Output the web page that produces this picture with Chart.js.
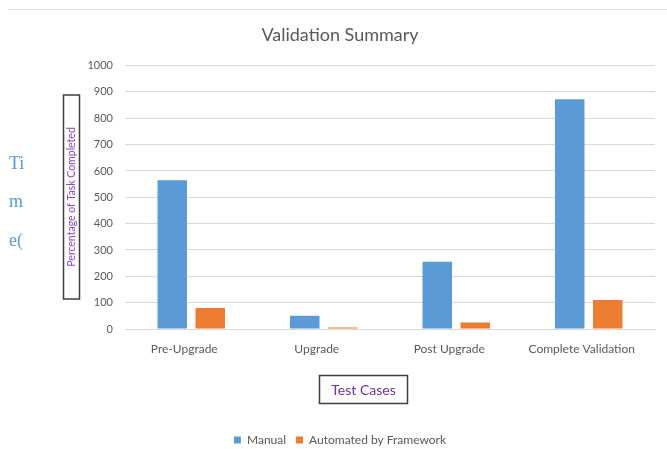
<!DOCTYPE html>
<html>
<head>
<meta charset="utf-8">
<script src="https://cdn.jsdelivr.net/npm/chart.js@4"></script>
<style>
  html, body { margin: 0; padding: 0; background: #fff; }
  #wrap { width: 667px; height: 449px; position: relative; }
</style>
</head>
<body>
<div id="wrap"><canvas id="chart"></canvas></div>
<script>
  const categories = ['Pre-Upgrade', 'Upgrade', 'Post Upgrade', 'Complete Validation'];
  const manual = [565, 50, 255, 872];
  const automated = [80, 6, 25, 110];
  const yTicks = [0, 100, 200, 300, 400, 500, 600, 700, 800, 900, 1000];

  const font = 'Lato, "Open Sans", sans-serif';
  const grey = '#595959';

  // boxed axis titles, the stray "Ti m e(" text and the top rule
  const extras = {
    id: 'extras',
    afterDraw(chart) {
      const ctx = chart.ctx;
      ctx.save();

      ctx.strokeStyle = '#e3e3e3';
      ctx.lineWidth = 1;
      ctx.beginPath();
      ctx.moveTo(8, 9.5);
      ctx.lineTo(667, 9.5);
      ctx.stroke();

      ctx.fillStyle = '#5b9bd5';
      ctx.font = '18px "Liberation Serif", "DejaVu Serif", serif';
      ctx.textAlign = 'left';
      ctx.textBaseline = 'middle';
      ctx.fillText('Ti', 9, 164);
      ctx.fillText('m', 9, 202);
      ctx.fillText('e(', 9, 241);

      // y title box
      ctx.strokeStyle = '#3f3f3f';
      ctx.lineWidth = 1.5;
      ctx.strokeRect(63.5, 95, 16, 204);
      ctx.save();
      ctx.translate(71.5, 197);
      ctx.rotate(-Math.PI / 2);
      ctx.fillStyle = '#8e44c9';
      ctx.font = '10.5px ' + font;
      ctx.textAlign = 'center';
      ctx.fillText('Percentage of Task Completed', 0, 0);
      ctx.restore();

      // x title box
      ctx.strokeRect(319.5, 375.5, 88, 28);
      ctx.fillStyle = '#7030a0';
      ctx.font = '14px ' + font;
      ctx.textAlign = 'center';
      ctx.fillText('Test Cases', 363.5, 390);

      ctx.restore();
    }
  };

  new Chart(
    document.getElementById('chart'),
    {
      type: 'bar',
      data: {
        labels: categories,
        datasets: [
          { label: 'Manual', data: manual, backgroundColor: '#5b9bd5' },
          { label: 'Automated by Framework', data: automated, backgroundColor: '#ed7d31' }
        ]
      },
      options: {
        responsive: true,
        maintainAspectRatio: false,
        animation: false,
        datasets: {
          bar: { categoryPercentage: 0.574, barPercentage: 0.776 }
        },
        layout: { padding: { left: 25, right: 12, top: 0, bottom: -7 } },
        plugins: {
          title: {
            display: true,
            text: 'Validation Summary',
            color: grey,
            font: { family: font, size: 18, weight: 'normal' },
            padding: { top: 24, bottom: 20 }
          },
          legend: {
            position: 'bottom',
            labels: {
              color: grey,
              font: { family: font, size: 12 },
              boxWidth: 7,
              boxHeight: 7,
              padding: 10
            }
          },
          tooltip: { enabled: false }
        },
        scales: {
          x: {
            grid: { display: false },
            border: { color: '#d9d9d9' },
            ticks: {
              color: grey,
              font: { family: font, size: 12 },
              padding: 5,
              labelOffset: -7,
              maxRotation: 0
            },
            afterFit: (scale) => { scale.height = 95; }
          },
          y: {
            min: 0,
            max: 1000,
            grid: { color: '#d9d9d9', drawTicks: false },
            border: { display: false },
            afterBuildTicks: (scale) => { scale.ticks = yTicks.map(v => ({ value: v })); },
            ticks: {
              color: grey,
              font: { family: font, size: 11 },
              padding: 12,
              callback: (value) => String(value)
            },
            afterFit: (scale) => { scale.width = 100; }
          }
        }
      },
      plugins: [extras]
    }
  );
</script>
</body>
</html>
